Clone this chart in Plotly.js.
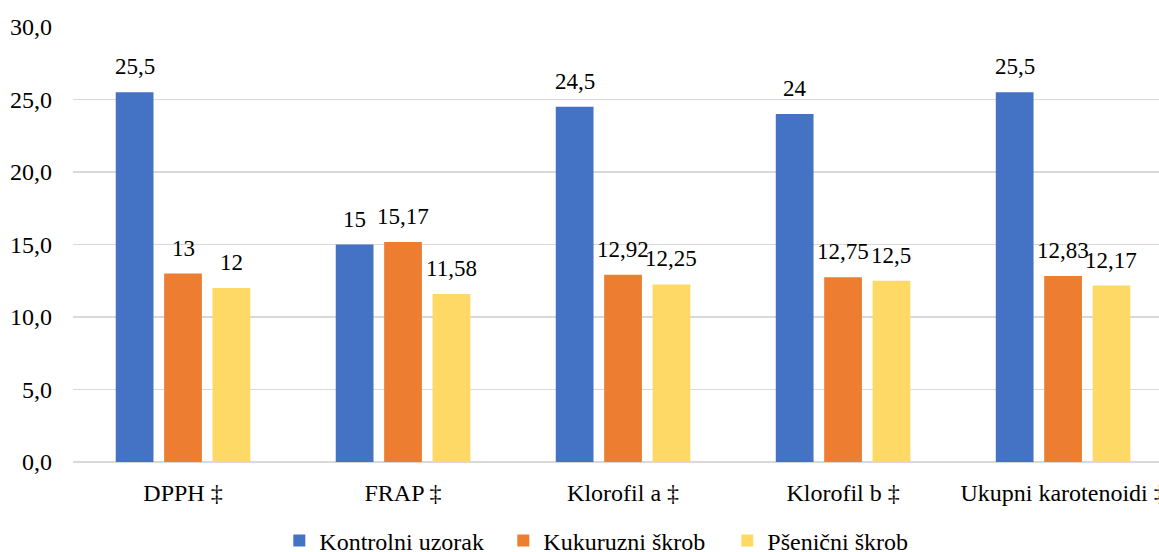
<!DOCTYPE html>
<html>
<head>
<meta charset="utf-8">
<script src="https://cdn.plot.ly/plotly-3.0.1.min.js"></script>
<style>html,body{margin:0;padding:0;background:#fff;}#chart{width:1159px;height:552px;}</style>
</head>
<body>
<div id="chart"></div>
<script>
const categories = ["DPPH ‡", "FRAP ‡", "Klorofil a ‡", "Klorofil b ‡", "Ukupni karotenoidi ‡"];
const seriesNames = ["Kontrolni uzorak", "Kukuruzni škrob", "Pšenični škrob"];
const kontrolni = [25.5, 15, 24.5, 24, 25.5];
const kukuruzni = [13, 15.17, 12.92, 12.75, 12.83];
const psenicni = [12, 11.58, 12.25, 12.5, 12.17];
const colors = ["#4472C4", "#ED7D31", "#FFD966"];
const yTicks = [0, 5, 10, 15, 20, 25, 30];

const fontFamily = "Liberation Serif, Times New Roman, serif";
const fmt = v => String(v).replace('.', ',');

const W = 1159, H = 552;
const margin = {l: 73, r: 0, t: 27, b: 90, autoexpand: false};
const xRange = [-0.5, 4.436];
const bargap = 0.34;
const pxPerCat = (W - margin.l - margin.r) / (xRange[1] - xRange[0]);
const slotPx = pxPerCat * (1 - bargap) / 3;

const allSeries = [kontrolni, kukuruzni, psenicni];

const traces = allSeries.map((vals, i) => ({
  type: 'bar',
  name: seriesNames[i],
  x: categories,
  y: vals,
  marker: {color: colors[i]},
  hoverinfo: 'none'
}));

const annotations = [];
allSeries.forEach((vals, i) => {
  vals.forEach((v, j) => {
    annotations.push({
      x: categories[j], y: v, xref: 'x', yref: 'y',
      text: fmt(v), showarrow: false,
      xanchor: 'center', yanchor: 'bottom',
      xshift: (i - 1) * slotPx, yshift: 11,
      font: {family: fontFamily, size: 23, color: '#000'}
    });
  });
});

const layout = {
  width: W,
  height: H,
  margin: margin,
  paper_bgcolor: '#fff',
  plot_bgcolor: '#fff',
  font: {family: fontFamily, size: 24, color: '#000'},
  separators: ', ',
  barmode: 'group',
  bargap: bargap,
  bargroupgap: 0.22,
  showlegend: true,
  annotations: annotations,
  legend: {
    orientation: 'h',
    xref: 'container',
    x: 0.241, xanchor: 'left',
    yref: 'container',
    y: 0.02, yanchor: 'middle',
    font: {family: fontFamily, size: 24, color: '#000'},
    itemwidth: 30,
    entrywidth: 179,
    entrywidthmode: 'pixels'
  },
  xaxis: {
    type: 'category',
    range: xRange,
    showgrid: false,
    zeroline: false,
    showline: false,
    ticks: '',
    ticklabelstandoff: 14,
    tickfont: {family: fontFamily, size: 24, color: '#000'},
    automargin: false
  },
  yaxis: {
    range: [0, 30],
    tickvals: yTicks,
    tickformat: '.1f',
    showgrid: true,
    gridcolor: '#D9D9D9',
    gridwidth: 1.3,
    zeroline: true,
    zerolinecolor: '#D9D9D9',
    zerolinewidth: 2,
    showline: false,
    ticks: '',
    ticklabelstandoff: 20,
    tickfont: {family: fontFamily, size: 24, color: '#000'},
    automargin: false
  }
};

Plotly.newPlot('chart', traces, layout, {displayModeBar: false, staticPlot: true});
</script>
</body>
</html>
